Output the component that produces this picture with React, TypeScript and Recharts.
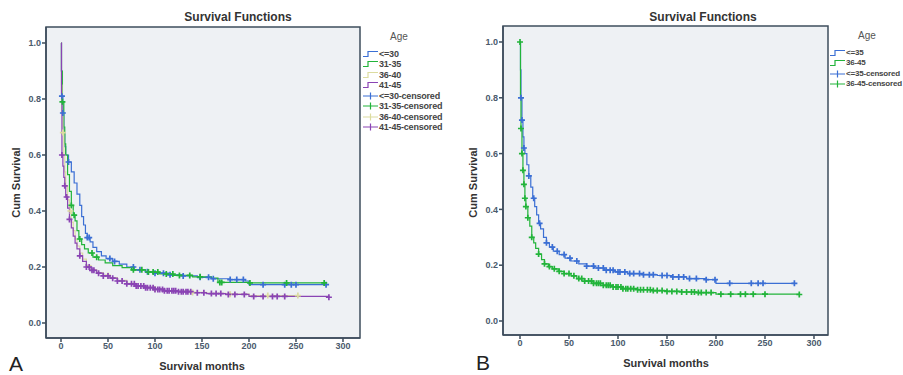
import { ComposedChart, Line, Scatter, XAxis, YAxis, ReferenceArea } from 'recharts';

type Pt = [number, number];

const monthTicks = [0, 50, 100, 150, 200, 250, 300];
const survTicks = [0, 0.2, 0.4, 0.6, 0.8, 1.0];

// Panel A: four age groups, [month, cum survival] step points
const ageA = ['<=30', '31-35', '36-40', '41-45'];
const stepsA30: Pt[] = [[0, 1], [0.5, 0.9], [1, 0.81], [2, 0.75], [3, 0.68], [4, 0.63], [5, 0.6], [8, 0.575], [11, 0.54], [14, 0.5], [17, 0.46], [20, 0.42], [22, 0.38], [24, 0.35], [26, 0.32], [28, 0.305], [31, 0.29], [34, 0.27], [38, 0.255], [43, 0.24], [48, 0.23], [55, 0.22], [62, 0.21], [70, 0.2], [78, 0.19], [90, 0.183], [100, 0.178], [115, 0.172], [130, 0.168], [145, 0.163], [160, 0.158], [180, 0.155], [196, 0.15], [200, 0.137], [282, 0.137]];
const stepsA35: Pt[] = [[0, 1], [0.5, 0.9], [1.5, 0.79], [3, 0.7], [4, 0.64], [5, 0.6], [7, 0.53], [9, 0.47], [11, 0.42], [13, 0.385], [15, 0.365], [17, 0.33], [19, 0.3], [22, 0.28], [25, 0.265], [29, 0.25], [34, 0.235], [40, 0.225], [47, 0.215], [55, 0.205], [65, 0.198], [75, 0.19], [90, 0.182], [105, 0.175], [120, 0.17], [140, 0.165], [160, 0.16], [167, 0.145], [200, 0.143], [280, 0.143]];
const stepsA40: Pt[] = [[0, 1], [0.5, 0.85], [1, 0.75], [2, 0.68], [3, 0.6], [4, 0.54], [5, 0.49], [7, 0.44], [9, 0.4], [11, 0.36], [13, 0.33], [15, 0.3], [17, 0.275], [20, 0.25], [23, 0.228], [27, 0.205], [32, 0.19], [38, 0.18], [45, 0.17], [52, 0.162], [60, 0.152], [70, 0.142], [80, 0.133], [90, 0.127], [100, 0.121], [110, 0.116], [125, 0.113], [140, 0.109], [155, 0.106], [175, 0.103], [200, 0.098], [252, 0.098]];
const stepsA45: Pt[] = [[0, 1], [0.5, 0.81], [1, 0.6], [2, 0.56], [3, 0.52], [4, 0.49], [5, 0.45], [7, 0.41], [9, 0.37], [11, 0.34], [13, 0.31], [15, 0.285], [17, 0.265], [20, 0.24], [23, 0.22], [27, 0.2], [32, 0.188], [38, 0.178], [45, 0.168], [52, 0.16], [60, 0.15], [70, 0.14], [80, 0.132], [90, 0.126], [100, 0.12], [110, 0.115], [125, 0.112], [140, 0.108], [155, 0.105], [175, 0.102], [200, 0.095], [285, 0.092]];

const censA30 = [1, 2, 8, 28, 30, 52, 57, 77, 84, 92, 100, 109, 116, 130, 148, 157, 162, 180, 187, 194, 215, 238, 245, 250, 282];
const censA35 = [1.5, 11, 14, 20, 33, 38, 77, 86, 93, 98, 103, 112, 119, 126, 137, 148, 169, 171, 201, 240, 280];
const censA40 = [2, 10, 50, 100, 140, 180, 220, 252];
const censA45 = [1, 4, 6, 9, 20, 27, 30, 33, 35, 40, 45, 50, 55, 60, 65, 70, 75, 78, 80, 82, 85, 88, 90, 92, 95, 98, 100, 103, 105, 108, 110, 113, 115, 118, 120, 122, 125, 128, 130, 133, 135, 138, 145, 152, 160, 165, 170, 178, 185, 195, 205, 215, 225, 230, 238, 285];

// Panel B: two age groups
const ageB = ['<=35', '36-45'];
const stepsB35: Pt[] = [[0, 1], [0.5, 0.9], [1, 0.8], [2, 0.72], [3, 0.66], [4, 0.62], [5, 0.6], [7, 0.56], [9, 0.52], [11, 0.48], [13, 0.44], [15, 0.41], [17, 0.38], [19, 0.35], [21, 0.33], [24, 0.3], [27, 0.28], [30, 0.265], [34, 0.25], [40, 0.238], [46, 0.225], [52, 0.215], [60, 0.205], [68, 0.197], [76, 0.19], [86, 0.182], [96, 0.176], [110, 0.17], [125, 0.166], [140, 0.163], [155, 0.158], [170, 0.152], [190, 0.148], [200, 0.135], [280, 0.135]];
const stepsB45: Pt[] = [[0, 1], [0.5, 0.8], [1, 0.69], [2, 0.6], [3, 0.54], [4, 0.49], [5, 0.44], [6, 0.41], [8, 0.37], [10, 0.34], [12, 0.3], [14, 0.28], [16, 0.26], [19, 0.24], [22, 0.22], [25, 0.205], [29, 0.195], [33, 0.187], [39, 0.178], [45, 0.17], [52, 0.162], [58, 0.152], [66, 0.143], [75, 0.135], [85, 0.128], [95, 0.122], [105, 0.116], [120, 0.112], [135, 0.109], [150, 0.106], [165, 0.104], [180, 0.102], [200, 0.096], [285, 0.095]];

const censB35 = [1, 2, 4, 9, 14, 20, 27, 33, 38, 45, 51, 58, 68, 75, 80, 85, 88, 92, 95, 100, 102, 107, 112, 116, 122, 126, 132, 136, 145, 150, 156, 162, 167, 173, 180, 190, 199, 214, 236, 243, 248, 280];
const censB45 = [0, 1, 2, 3, 4, 5, 6, 8, 12, 19, 25, 30, 35, 40, 45, 50, 55, 60, 63, 66, 70, 73, 75, 78, 80, 82, 85, 88, 90, 92, 95, 98, 100, 103, 105, 108, 110, 113, 116, 120, 123, 126, 130, 133, 136, 140, 145, 150, 155, 160, 165, 170, 175, 178, 182, 185, 190, 195, 205, 215, 225, 230, 238, 250, 285];

const BLUE = '#3b6fd4';
const GREEN = '#22b43a';
const YELLOW = '#dcdca0';
const PURPLE = '#8a44b4';
const AXIS = '#3e4d5c';
const BG = '#eef1f4';
const FONT = '"Liberation Sans", Arial, sans-serif';

const rows = (steps: Pt[]) => steps.map(([t, s]) => ({ t, s }));

function survAt(steps: Pt[], t: number) {
  let s = steps[0][1];
  for (const [st, sv] of steps) if (st <= t) s = sv;
  return s;
}
const censRows = (steps: Pt[], times: number[]) => times.map(t => ({ t, s: survAt(steps, t) }));

const plus = (color: string) => (props: any) => {
  const { cx, cy } = props;
  if (cx == null || cy == null) return <g />;
  return <path d={`M${cx - 3},${cy}h6M${cx},${cy - 3}v6`} stroke={color} strokeWidth={1.7} fill="none" />;
};

type Series = { name: string; color: string; steps: Pt[]; cens: number[] };

type PanelProps = {
  left: number;
  width: number;
  margin: { top: number; right: number; bottom: number; left: number };
  xDomain: [number, number];
  yDomain: [number, number];
  series: Series[];
};

function Panel({ left, width, margin, xDomain, yDomain, series }: PanelProps) {
  return (
    <div style={{ position: 'absolute', left, top: 0 }}>
      <ComposedChart width={width} height={375} margin={margin}>
        <XAxis type="number" dataKey="t" domain={xDomain} ticks={monthTicks} allowDataOverflow
          height={30} tickSize={4} tickMargin={1}
          axisLine={{ stroke: AXIS, strokeWidth: 1.5 }} tickLine={{ stroke: AXIS, strokeWidth: 1.5 }}
          tick={{ fill: '#4a5a6c', fontSize: 9, fontFamily: FONT, fontWeight: 700 }} />
        <YAxis type="number" dataKey="s" domain={yDomain} ticks={survTicks} allowDataOverflow
          width={30} tickSize={4} tickMargin={1} tickFormatter={(v: number) => v.toFixed(1)}
          axisLine={{ stroke: AXIS, strokeWidth: 1.5 }} tickLine={{ stroke: AXIS, strokeWidth: 1.5 }}
          tick={{ fill: '#4a5a6c', fontSize: 9, fontFamily: FONT, fontWeight: 700 }} />
        <ReferenceArea x1={xDomain[0]} x2={xDomain[1]} y1={yDomain[0]} y2={yDomain[1]}
          fill={BG} fillOpacity={1} stroke={AXIS} strokeWidth={1.5} ifOverflow="visible" />
        {series.map(s => (
          <Line key={s.name} data={rows(s.steps)} dataKey="s" type="stepAfter" stroke={s.color}
            strokeWidth={1.2} dot={false} activeDot={false} isAnimationActive={false} />
        ))}
        {series.map(s => (
          <Scatter key={s.name + '-c'} data={censRows(s.steps, s.cens)} dataKey="s"
            shape={plus(s.color)} isAnimationActive={false} />
        ))}
      </ComposedChart>
    </div>
  );
}

const txt = (extra: React.CSSProperties): React.CSSProperties => ({
  position: 'absolute', fontFamily: FONT, whiteSpace: 'nowrap', lineHeight: 1, ...extra,
});

function StepIcon({ color }: { color: string }) {
  return (
    <svg width={15} height={8} style={{ display: 'block', flexShrink: 0 }}>
      <path d="M0,6.5H5V1.5H15" stroke={color} strokeWidth={1.2} fill="none" />
    </svg>
  );
}
function PlusIcon({ color }: { color: string }) {
  return (
    <svg width={15} height={8} style={{ display: 'block', flexShrink: 0 }}>
      <path d="M0,4H15M7.5,0.5V7.5" stroke={color} strokeWidth={1.2} fill="none" />
    </svg>
  );
}

function LegendBox({ x, y, ageX, fontSize, items }: { x: number; y: number; ageX: number; fontSize: number; items: { label: string; color: string; cens: boolean }[] }) {
  return (
    <>
      <div style={txt({ left: ageX - 15, top: y - 22, width: 30, textAlign: 'center', fontSize: 10, color: '#555' })}>Age</div>
      {items.map((it, i) => (
        <div key={it.label} style={{ position: 'absolute', left: x, top: y + i * 10.45 - 4, display: 'flex', alignItems: 'center' }}>
          {it.cens ? <PlusIcon color={it.color} /> : <StepIcon color={it.color} />}
          <span style={{ fontFamily: FONT, fontSize, fontWeight: 700, color: '#444', marginLeft: 1, lineHeight: '8px', whiteSpace: 'nowrap', letterSpacing: -0.2 }}>{it.label}</span>
        </div>
      ))}
    </>
  );
}

export default function App() {
  const seriesA: Series[] = [
    { name: ageA[0], color: BLUE, steps: stepsA30, cens: censA30 },
    { name: ageA[1], color: GREEN, steps: stepsA35, cens: censA35 },
    { name: ageA[2], color: YELLOW, steps: stepsA40, cens: censA40 },
    { name: ageA[3], color: PURPLE, steps: stepsA45, cens: censA45 },
  ];
  const seriesB: Series[] = [
    { name: ageB[0], color: BLUE, steps: stepsB35, cens: censB35 },
    { name: ageB[1], color: GREEN, steps: stepsB45, cens: censB45 },
  ];
  const legendA = [
    ...seriesA.map(s => ({ label: s.name, color: s.color, cens: false })),
    ...seriesA.map(s => ({ label: s.name + '-censored', color: s.color, cens: true })),
  ];
  const legendB = [
    ...seriesB.map(s => ({ label: s.name, color: s.color, cens: false })),
    ...seriesB.map(s => ({ label: s.name + '-censored', color: s.color, cens: true })),
  ];
  return (
    <div style={{ position: 'absolute', left: 0, top: 0, width: 903, height: 375, overflow: 'hidden', background: '#fff' }}>
      <Panel left={0} width={440} margin={{ top: 27, right: 80, bottom: 7, left: 16 }}
        xDomain={[-15.96, 318.1]} yDomain={[-0.0536, 1.0571]} series={seriesA} />
      <Panel left={440} width={463} margin={{ top: 26, right: 75, bottom: 10, left: 33 }}
        xDomain={[-17.35, 314.3]} yDomain={[-0.0502, 1.0573]} series={seriesB} />

      <div style={txt({ left: 138, top: 11, width: 200, textAlign: 'center', fontSize: 12, fontWeight: 700, color: '#333' })}>Survival Functions</div>
      <div style={txt({ left: 603, top: 11, width: 200, textAlign: 'center', fontSize: 12, fontWeight: 700, color: '#333' })}>Survival Functions</div>

      <div style={txt({ left: 102, top: 361, width: 200, textAlign: 'center', fontSize: 11, fontWeight: 700, color: '#333' })}>Survival months</div>
      <div style={txt({ left: 566, top: 358, width: 200, textAlign: 'center', fontSize: 11, fontWeight: 700, color: '#333' })}>Survival months</div>

      <div style={txt({ left: 16 - 50, top: 183 - 6, width: 100, textAlign: 'center', fontSize: 11, fontWeight: 700, color: '#333', transform: 'rotate(-90deg)' })}>Cum Survival</div>
      <div style={txt({ left: 473 - 50, top: 183 - 6, width: 100, textAlign: 'center', fontSize: 11, fontWeight: 700, color: '#333', transform: 'rotate(-90deg)' })}>Cum Survival</div>

      <div style={txt({ left: 9, top: 353, fontSize: 21, color: '#222' })}>A</div>
      <div style={txt({ left: 476, top: 352, fontSize: 21, color: '#222' })}>B</div>

      <LegendBox x={363} y={54} ageX={399} fontSize={9} items={legendA} />
      <LegendBox x={830} y={53} ageX={867} fontSize={8} items={legendB} />
    </div>
  );
}
